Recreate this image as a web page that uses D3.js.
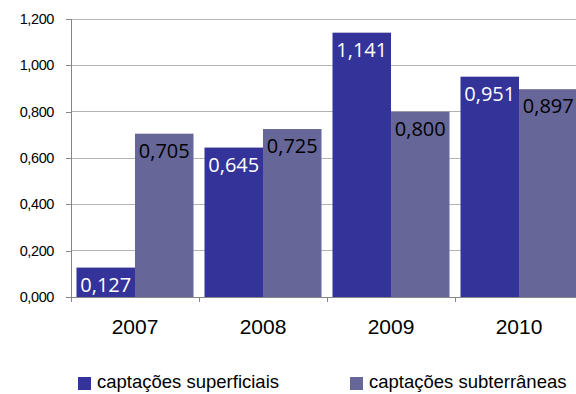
<!DOCTYPE html>
<html>
<head>
<meta charset="utf-8">
<script src="https://cdn.jsdelivr.net/npm/d3@7"></script>
<style>
  html, body { margin: 0; padding: 0; background: #fff; }
  svg { display: block; }
</style>
</head>
<body>
<svg id="chart" width="576" height="394"></svg>
<script>
// Chart data
const years = ["2007", "2008", "2009", "2010"];
const seriesNames = ["captações superficiais", "captações subterrâneas"];
const superficiais = [0.127, 0.645, 1.141, 0.951];
const subterraneas = [0.705, 0.725, 0.800, 0.897];
const yTicks = [0, 0.2, 0.4, 0.6, 0.8, 1.0, 1.2];
const colors = ["#333399", "#666699"];
const labelColors = ["#ffffff", "#000000"];

const svg = d3.select("#chart");
const margin = { left: 71, top: 19, bottom: 297, right: 583 };

const fmt = v => d3.format(".3f")(v).replace(".", ",");

const x0 = d3.scaleBand().domain(years).range([margin.left, margin.right]).padding(0);
const x1 = d3.scaleBand().domain(seriesNames).range([0, x0.bandwidth()]).paddingInner(0).paddingOuter(0.094);
const y = d3.scaleLinear().domain([0, 1.2]).range([margin.bottom, margin.top]);

// Horizontal gridlines
svg.append("g").selectAll("line").data(yTicks.slice(1)).join("line")
  .attr("x1", margin.left).attr("x2", 576)
  .attr("y1", d => y(d)).attr("y2", d => y(d))
  .attr("stroke", "#b3b3b3").attr("stroke-width", 1).attr("shape-rendering", "crispEdges");

// Y axis
const yAxis = d3.axisLeft(y).tickValues(yTicks).tickFormat(fmt).tickSize(5).tickPadding(12);
const gy = svg.append("g").attr("transform", `translate(${margin.left},0)`).call(yAxis);
gy.select(".domain").attr("stroke", "#868686").attr("shape-rendering", "crispEdges");
gy.selectAll(".tick line").attr("stroke", "#868686").attr("shape-rendering", "crispEdges");
gy.selectAll("text").attr("font-family", "'Liberation Sans', Arial, sans-serif")
  .attr("font-size", 14.5).attr("fill", "#000").attr("letter-spacing", -0.4);

// Bars
const rows = years.map((yr, i) => ({ year: yr, values: [superficiais[i], subterraneas[i]] }));
const groups = svg.append("g").selectAll("g").data(rows).join("g")
  .attr("transform", d => `translate(${x0(d.year)},0)`);

groups.selectAll("rect").data(d => d.values.map((v, k) => ({ v, k }))).join("rect")
  .attr("x", d => x1(seriesNames[d.k]))
  .attr("width", x1.bandwidth())
  .attr("y", d => y(d.v))
  .attr("height", d => y(0) - y(d.v))
  .attr("fill", d => colors[d.k]);

groups.selectAll("text").data(d => d.values.map((v, k) => ({ v, k }))).join("text")
  .attr("x", d => x1(seriesNames[d.k]) + x1.bandwidth() / 2)
  .attr("y", d => y(d.v) + 24)
  .attr("text-anchor", "middle")
  .attr("font-family", "'Open Sans', sans-serif")
  .attr("font-size", 20)
  .attr("fill", d => labelColors[d.k])
  .text(d => fmt(d.v));

// X axis
const xAxis = d3.axisBottom(x0).tickSize(0).tickPadding(22);
const gx = svg.append("g").attr("transform", `translate(0,${margin.bottom})`).call(xAxis);
gx.select(".domain").attr("stroke", "#868686").attr("shape-rendering", "crispEdges");
gx.selectAll("text").attr("font-family", "'Liberation Sans', Arial, sans-serif")
  .attr("font-size", 21).attr("fill", "#000");

// Category boundary ticks
svg.append("g").selectAll("line")
  .data(years.map(yr => x0(yr)).concat([x0(years[years.length - 1]) + x0.bandwidth()]))
  .join("line")
  .attr("x1", d => d).attr("x2", d => d)
  .attr("y1", margin.bottom).attr("y2", margin.bottom + 5)
  .attr("stroke", "#868686").attr("shape-rendering", "crispEdges");

// Legend
const legendX = [78, 350];
const legend = svg.append("g").selectAll("g").data(seriesNames).join("g")
  .attr("transform", (d, i) => `translate(${legendX[i]},377)`);
legend.append("rect").attr("width", 13).attr("height", 13).attr("fill", (d, i) => colors[i]);
legend.append("text").attr("x", 19).attr("y", 11)
  .attr("font-family", "'Liberation Sans', Arial, sans-serif")
  .attr("font-size", 18.5).attr("fill", "#000")
  .text(d => d);
</script>
</body>
</html>
